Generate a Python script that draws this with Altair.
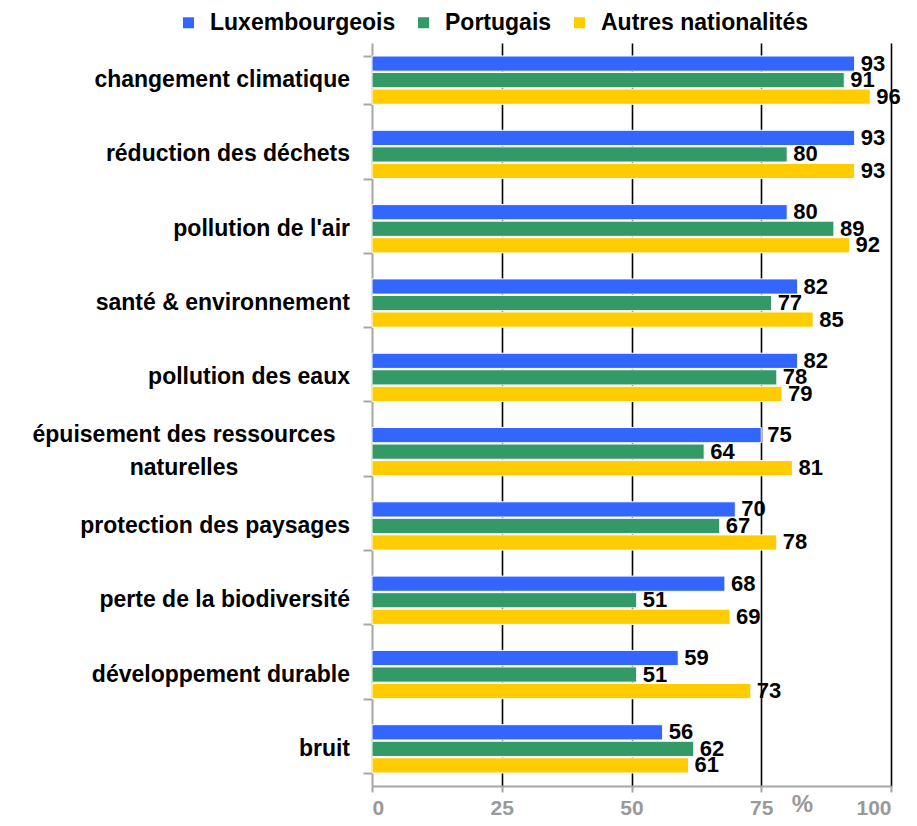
import altair as alt
import pandas as pd

FONT = "Liberation Sans"

categories = [
    "changement climatique",
    "réduction des déchets",
    "pollution de l'air",
    "santé & environnement ",
    "pollution des eaux",
    "épuisement des ressources\nnaturelles",
    "protection des paysages",
    "perte de la biodiversité",
    "développement durable",
    "bruit",
]
series = ["Luxembourgeois", "Portugais", "Autres nationalités"]
lux = [93, 93, 80, 82, 82, 75, 70, 68, 59, 56]
por = [91, 80, 89, 77, 78, 64, 67, 51, 51, 62]
aut = [96, 93, 92, 85, 79, 81, 78, 69, 73, 61]
colors = ["#3366FF", "#339966", "#FFCC00"]
x_ticks = [0, 25, 50, 75, 100]
x_title = "%"

rows = []
for i, c in enumerate(categories):
    for s, vals in zip(series, [lux, por, aut]):
        rows.append({"cat": c, "series": s, "value": vals[i]})
df = pd.DataFrame(rows)
cat_df = pd.DataFrame({"cat": categories})

GRAY = "#A6A6A6"

y_enc = alt.Y(
    "cat:N",
    sort=categories,
    scale=alt.Scale(paddingInner=0.35, paddingOuter=0.175),
    axis=alt.Axis(
        labels=False, title=None, grid=False,
        domainColor=GRAY, domainWidth=2,
        tickColor=GRAY, tickWidth=2, tickSize=9, tickBand="extent",
    ),
)
yoff_enc = alt.YOffset("series:N", sort=series, scale=alt.Scale(paddingInner=0.08))
x_enc = alt.X(
    "value:Q",
    scale=alt.Scale(domain=[0, 100], nice=False),
    axis=alt.Axis(
        values=x_ticks,
        grid=True, gridColor="black", gridWidth=1.6,
        gridOpacity={"condition": {"test": "datum.value === 0", "value": 0}, "value": 1},
        domainColor=GRAY, domainWidth=2,
        tickColor=GRAY, tickWidth=2, tickSize=6,
        labelColor="#999999", labelFont=FONT, labelFontSize=21, labelFontWeight="bold",
        labelPadding=5,
        title=x_title, titleX=430, titleY=18, titleAlign="center", titleBaseline="middle",
        titleColor="#999999", titleFont=FONT, titleFontSize=24, titleFontWeight="bold",
    ),
)

bars = alt.Chart(df).mark_bar(stroke="white", strokeWidth=1).encode(
    x=x_enc,
    y=y_enc,
    yOffset=yoff_enc,
    color=alt.Color(
        "series:N",
        sort=series,
        scale=alt.Scale(domain=series, range=colors),
        legend=alt.Legend(
            orient="none", legendX=-195, legendY=-32, direction="horizontal", columns=3,
            title=None, symbolType="square", symbolSize=121, symbolStrokeWidth=0,
            labelFont=FONT, labelFontSize=23, labelFontWeight="bold", labelColor="black",
            labelLimit=400, labelOffset=10, columnPadding=16,
        ),
    ),
)

values = alt.Chart(df).mark_text(
    align="left", baseline="middle", dx=6, font=FONT, fontSize=22, fontWeight="bold", color="black"
).encode(
    x=alt.X("value:Q"),
    y=alt.Y("cat:N", sort=categories),
    yOffset=alt.YOffset("series:N", sort=series),
    text="value:Q",
)

cat_labels = alt.Chart(cat_df).transform_filter(
    "indexof(datum.cat, '\\n') < 0"
).mark_text(
    align="right", baseline="middle", font=FONT, fontSize=23, fontWeight="bold", color="black"
).encode(
    x=alt.value(-22),
    y=alt.Y("cat:N", sort=categories),
    text="cat:N",
)

cat_labels_multi = alt.Chart(cat_df).transform_filter(
    "indexof(datum.cat, '\\n') >= 0"
).mark_text(
    align="center", baseline="middle", font=FONT, fontSize=23, fontWeight="bold", color="black",
    lineBreak="\n", lineHeight=33, dy=-17,
).encode(
    x=alt.value(-188),
    y=alt.Y("cat:N", sort=categories),
    text="cat:N",
)

chart = alt.layer(bars, values, cat_labels, cat_labels_multi).properties(
    width=519,
    height=743,
    autosize=alt.AutoSizeParams(type="none"),
    padding={"left": 364, "top": 35, "right": 16, "bottom": 32},
    background="white",
).configure_view(stroke=None)

chart.save("out.html", embed_options={"renderer": "svg", "actions": False})
